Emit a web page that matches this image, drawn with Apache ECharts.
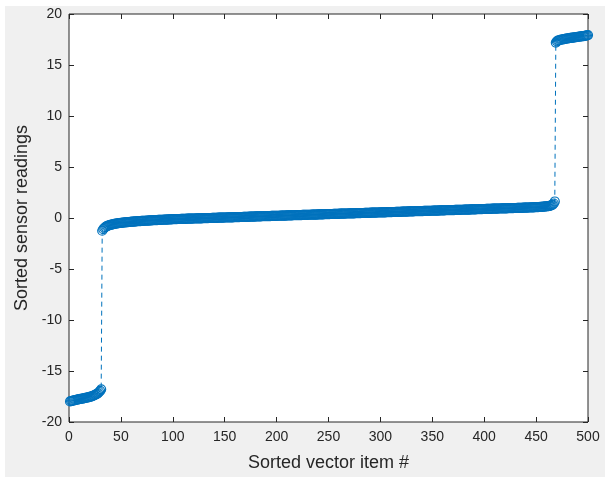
<!DOCTYPE html>
<html>
<head>
<meta charset="utf-8">
<script src="https://cdn.jsdelivr.net/npm/echarts@6/dist/echarts.min.js"></script>
<style>
  html, body { margin: 0; padding: 0; background: #ffffff; }
  #frame { position: absolute; left: 5px; top: 6px; width: 600px; height: 471px; background: #f0f0f0; }
  #chart { position: absolute; left: 0; top: 0; width: 605px; height: 477px; }
</style>
</head>
<body>
<div id="frame"></div>
<div id="chart"></div>
<script>
// sorted readings, item 1..31 (low outliers)
const lowReadings = [
  -17.98, -17.95, -17.92, -17.90, -17.87, -17.85, -17.82, -17.80, -17.78, -17.76,
  -17.74, -17.72, -17.70, -17.68, -17.66, -17.64, -17.62, -17.60, -17.57, -17.54,
  -17.51, -17.48, -17.44, -17.40, -17.35, -17.30, -17.24, -17.16, -17.06, -16.95,
  -16.80
]

// item 32..468
const midReadings = [
  -1.25, -1.10, -0.98, -0.90, -0.83, -0.78, -0.74, -0.70, -0.67, -0.64,
  -0.62, -0.60, -0.58, -0.56, -0.54, -0.52, -0.51, -0.49, -0.48, -0.47,
  -0.45, -0.44, -0.43, -0.42, -0.41, -0.40, -0.39, -0.38, -0.37, -0.36,
  -0.35, -0.35, -0.34, -0.33, -0.32, -0.31, -0.31, -0.30, -0.29, -0.29,
  -0.28, -0.27, -0.27, -0.26, -0.25, -0.25, -0.24, -0.23, -0.23, -0.22,
  -0.22, -0.21, -0.20, -0.20, -0.19, -0.19, -0.18, -0.18, -0.17, -0.17,
  -0.16, -0.16, -0.15, -0.15, -0.14, -0.14, -0.13, -0.13, -0.12, -0.12,
  -0.11, -0.11, -0.11, -0.10, -0.10, -0.10, -0.09, -0.09, -0.09, -0.08,
  -0.08, -0.08, -0.07, -0.07, -0.07, -0.06, -0.06, -0.06, -0.05, -0.05,
  -0.05, -0.04, -0.04, -0.04, -0.03, -0.03, -0.03, -0.02, -0.02, -0.02,
  -0.01, -0.01, -0.01, 0.00, 0.00, 0.00, 0.01, 0.01, 0.01, 0.02,
  0.02, 0.02, 0.03, 0.03, 0.03, 0.04, 0.04, 0.04, 0.05, 0.05,
  0.05, 0.06, 0.06, 0.06, 0.07, 0.07, 0.07, 0.08, 0.08, 0.08,
  0.09, 0.09, 0.09, 0.10, 0.10, 0.10, 0.11, 0.11, 0.11, 0.12,
  0.12, 0.12, 0.13, 0.13, 0.13, 0.14, 0.14, 0.14, 0.15, 0.15,
  0.15, 0.16, 0.16, 0.16, 0.17, 0.17, 0.17, 0.18, 0.18, 0.18,
  0.19, 0.19, 0.19, 0.20, 0.20, 0.20, 0.21, 0.21, 0.21, 0.22,
  0.22, 0.22, 0.23, 0.23, 0.23, 0.24, 0.24, 0.24, 0.25, 0.25,
  0.25, 0.26, 0.26, 0.26, 0.27, 0.27, 0.27, 0.28, 0.28, 0.28,
  0.29, 0.29, 0.29, 0.30, 0.30, 0.30, 0.31, 0.31, 0.31, 0.32,
  0.32, 0.32, 0.33, 0.33, 0.33, 0.34, 0.34, 0.34, 0.35, 0.35,
  0.35, 0.36, 0.36, 0.36, 0.37, 0.37, 0.37, 0.38, 0.38, 0.38,
  0.39, 0.39, 0.39, 0.40, 0.40, 0.40, 0.41, 0.41, 0.41, 0.42,
  0.42, 0.42, 0.43, 0.43, 0.43, 0.44, 0.44, 0.44, 0.45, 0.45,
  0.45, 0.46, 0.46, 0.46, 0.47, 0.47, 0.47, 0.48, 0.48, 0.48,
  0.49, 0.49, 0.49, 0.50, 0.50, 0.50, 0.51, 0.51, 0.51, 0.52,
  0.52, 0.52, 0.53, 0.53, 0.53, 0.54, 0.54, 0.54, 0.55, 0.55,
  0.55, 0.56, 0.56, 0.56, 0.57, 0.57, 0.57, 0.58, 0.58, 0.58,
  0.59, 0.59, 0.59, 0.60, 0.60, 0.60, 0.61, 0.61, 0.61, 0.62,
  0.62, 0.62, 0.63, 0.63, 0.63, 0.64, 0.64, 0.64, 0.65, 0.65,
  0.65, 0.66, 0.66, 0.66, 0.67, 0.67, 0.67, 0.68, 0.68, 0.68,
  0.69, 0.69, 0.69, 0.70, 0.70, 0.70, 0.71, 0.71, 0.71, 0.72,
  0.72, 0.72, 0.73, 0.73, 0.73, 0.74, 0.74, 0.74, 0.75, 0.75,
  0.75, 0.76, 0.76, 0.76, 0.77, 0.77, 0.77, 0.78, 0.78, 0.78,
  0.79, 0.79, 0.79, 0.80, 0.80, 0.80, 0.81, 0.81, 0.81, 0.82,
  0.82, 0.82, 0.83, 0.83, 0.83, 0.84, 0.84, 0.84, 0.85, 0.85,
  0.85, 0.86, 0.86, 0.86, 0.87, 0.87, 0.87, 0.88, 0.88, 0.88,
  0.89, 0.89, 0.89, 0.90, 0.90, 0.90, 0.91, 0.91, 0.91, 0.92,
  0.92, 0.92, 0.93, 0.93, 0.93, 0.94, 0.94, 0.94, 0.95, 0.95,
  0.95, 0.96, 0.96, 0.96, 0.97, 0.97, 0.97, 0.98, 0.98, 0.98,
  0.99, 0.99, 0.99, 1.00, 1.00, 1.00, 1.01, 1.01, 1.02, 1.02,
  1.02, 1.03, 1.03, 1.04, 1.04, 1.05, 1.05, 1.06, 1.06, 1.07,
  1.07, 1.08, 1.09, 1.09, 1.10, 1.11, 1.12, 1.13, 1.14, 1.15,
  1.17, 1.19, 1.22, 1.26, 1.32, 1.42, 1.62
]

// item 469..500 (high outliers)
const highReadings = [
  17.20, 17.32, 17.38, 17.42, 17.45, 17.48, 17.50, 17.52, 17.54, 17.56,
  17.58, 17.60, 17.62, 17.63, 17.65, 17.66, 17.68, 17.69, 17.71, 17.72,
  17.74, 17.75, 17.77, 17.78, 17.80, 17.81, 17.83, 17.84, 17.86, 17.88,
  17.90, 17.93
]

const xTicks = [0, 50, 100, 150, 200, 250, 300, 350, 400, 450, 500]
const yTicks = [-20, -15, -10, -5, 0, 5, 10, 15, 20]

const readings = lowReadings.concat(midReadings, highReadings)
const points = readings.map((v, i) => [i + 1, v])

const blue = '#0072BD'
const ink = '#262626'
const font = 'Liberation Sans, Arial, sans-serif'

const tick = { show: true, inside: true, length: 5, lineStyle: { color: ink, width: 1 } }
const noLine = { show: false, onZero: false }

const chart = echarts.init(document.getElementById('chart'))
chart.setOption({
  animation: false,
  grid: {
    left: 69, right: 17, top: 14, bottom: 54,
    show: true, backgroundColor: '#ffffff', borderColor: ink, borderWidth: 1
  },
  xAxis: [
    {
      type: 'value', min: xTicks[0], max: xTicks[xTicks.length - 1], interval: 50,
      position: 'bottom',
      name: 'Sorted vector item #', nameLocation: 'middle', nameGap: 32,
      nameTextStyle: { color: ink, fontFamily: font, fontSize: 18 },
      axisLine: noLine, axisTick: tick, splitLine: { show: false },
      axisLabel: { color: ink, fontFamily: font, fontSize: 14, margin: 8 }
    },
    {
      type: 'value', min: xTicks[0], max: xTicks[xTicks.length - 1], interval: 50,
      position: 'top',
      axisLine: noLine, axisTick: tick, splitLine: { show: false },
      axisLabel: { show: false }
    }
  ],
  yAxis: [
    {
      type: 'value', min: yTicks[0], max: yTicks[yTicks.length - 1], interval: 5,
      position: 'left',
      name: 'Sorted sensor readings', nameLocation: 'middle', nameGap: 38,
      nameTextStyle: { color: ink, fontFamily: font, fontSize: 18 },
      axisLine: noLine, axisTick: tick, splitLine: { show: false },
      axisLabel: { color: ink, fontFamily: font, fontSize: 14, margin: 7 }
    },
    {
      type: 'value', min: yTicks[0], max: yTicks[yTicks.length - 1], interval: 5,
      position: 'right',
      axisLine: noLine, axisTick: tick, splitLine: { show: false },
      axisLabel: { show: false }
    }
  ],
  series: [
    {
      type: 'line',
      data: points,
      symbol: 'circle',
      symbolSize: 9,
      showAllSymbol: true,
      itemStyle: { color: 'rgba(0,0,0,0)', borderColor: blue, borderWidth: 1.2 },
      lineStyle: { color: blue, width: 1, type: [5, 4] },
      emphasis: { disabled: true }
    }
  ]
})
</script>
</body>
</html>
